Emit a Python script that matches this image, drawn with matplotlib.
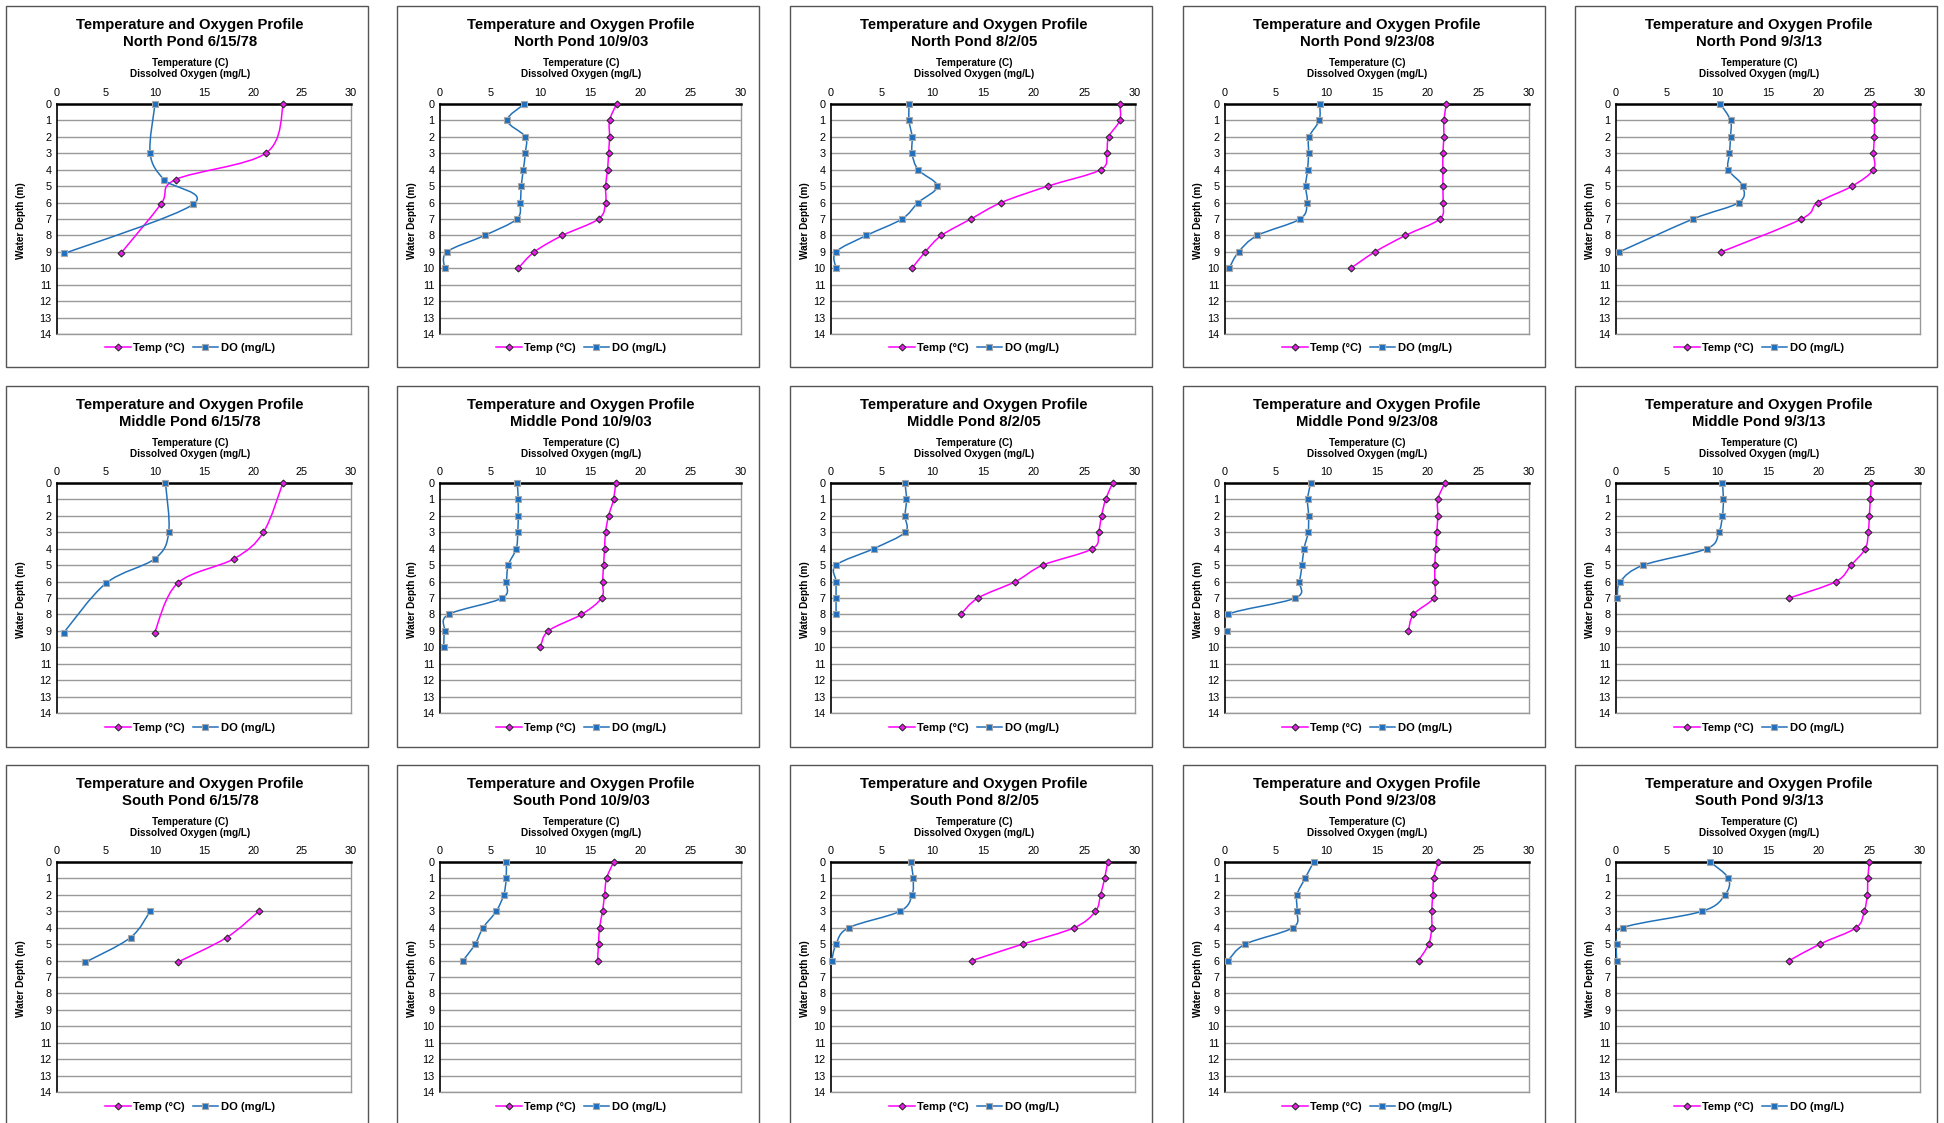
import numpy as np
import matplotlib
matplotlib.use('Agg')
import matplotlib.pyplot as plt
from matplotlib.path import Path
from matplotlib.patches import PathPatch, Rectangle
from matplotlib.lines import Line2D

plt.rcParams['font.family'] = ['Liberation Sans', 'DejaVu Sans']

# ---------------- data ----------------
ponds = ['North', 'Middle', 'South']
dates = ['6/15/78', '10/9/03', '8/2/05', '9/23/08', '9/3/13']
x_ticks = [0, 5, 10, 15, 20, 25, 30]
y_ticks = list(range(0, 15))

# North Pond
n78_depth = [0, 3, 4.6, 6.1, 9.1]
n78_temp = [23.1, 21.3, 12.1, 10.6, 6.5]
n78_do = [10.0, 9.5, 10.9, 13.9, 0.75]

n03_depth = [0, 1, 2, 3, 4, 5, 6, 7, 8, 9, 10]
n03_temp = [17.6, 16.9, 16.9, 16.8, 16.7, 16.5, 16.5, 15.8, 12.2, 9.4, 7.8]
n03_do = [8.4, 6.7, 8.5, 8.5, 8.3, 8.1, 8.0, 7.65, 4.45, 0.7, 0.46]

n05_depth = [0, 1, 2, 3, 4, 5, 6, 7, 8, 9, 10]
n05_temp = [28.5, 28.5, 27.4, 27.2, 26.6, 21.4, 16.8, 13.8, 10.9, 9.3, 8.0]
n05_do = [7.7, 7.7, 8.0, 8.0, 8.6, 10.5, 8.6, 7.0, 3.5, 0.5, 0.5]

n08_depth = [0, 1, 2, 3, 4, 5, 6, 7, 8, 9, 10]
n08_temp = [21.85, 21.6, 21.6, 21.5, 21.5, 21.5, 21.5, 21.2, 17.8, 14.8, 12.4]
n08_do = [9.35, 9.3, 8.3, 8.25, 8.15, 7.95, 8.1, 7.4, 3.2, 1.35, 0.4]

n13_depth = [0, 1, 2, 3, 4, 5, 6, 7, 9]
n13_temp = [25.5, 25.5, 25.5, 25.4, 25.4, 23.3, 19.9, 18.3, 10.4]
n13_do = [10.3, 11.3, 11.3, 11.2, 11.1, 12.5, 12.1, 7.6, 0.33]

# Middle Pond
m78_depth = [0, 3, 4.6, 6.1, 9.1]
m78_temp = [23.05, 21.06, 18.1, 12.3, 9.96]
m78_do = [11.07, 11.4, 10.0, 5.0, 0.7]

m03_depth = [0, 1, 2, 3, 4, 5, 6, 7, 8, 9, 10]
m03_temp = [17.5, 17.3, 16.8, 16.5, 16.4, 16.3, 16.2, 16.1, 14.1, 10.8, 10.0]
m03_do = [7.7, 7.8, 7.8, 7.75, 7.6, 6.8, 6.6, 6.2, 0.85, 0.45, 0.37]

m05_depth = [0, 1, 2, 3, 4, 5, 6, 7, 8]
m05_temp = [27.8, 27.1, 26.7, 26.4, 25.8, 20.9, 18.2, 14.5, 12.8]
m05_do = [7.3, 7.45, 7.3, 7.3, 4.2, 0.5, 0.5, 0.5, 0.5]

m08_depth = [0, 1, 2, 3, 4, 5, 6, 7, 8, 9]
m08_temp = [21.7, 21.0, 21.0, 20.9, 20.8, 20.7, 20.7, 20.6, 18.6, 18.1]
m08_do = [8.45, 8.15, 8.25, 8.2, 7.8, 7.6, 7.35, 6.95, 0.26, 0.16]

m13_depth = [0, 1, 2, 3, 4, 5, 6, 7]
m13_temp = [25.2, 25.1, 25.0, 24.9, 24.6, 23.2, 21.7, 17.1]
m13_do = [10.5, 10.6, 10.5, 10.15, 8.95, 2.7, 0.43, 0.13]

# South Pond
s78_depth = [3, 4.6, 6.1]
s78_temp = [20.6, 17.3, 12.3]
s78_do = [9.5, 7.5, 2.9]

s03_depth = [0, 1, 2, 3, 4, 5, 6]
s03_temp = [17.3, 16.6, 16.4, 16.2, 15.9, 15.8, 15.7]
s03_do = [6.6, 6.6, 6.35, 5.6, 4.3, 3.5, 2.3]

s05_depth = [0, 1, 2, 3, 4, 5, 6]
s05_temp = [27.3, 27.0, 26.6, 26.1, 24.0, 18.9, 13.9]
s05_do = [7.9, 8.1, 8.0, 6.8, 1.75, 0.5, 0.07]

s08_depth = [0, 1, 2, 3, 4, 5, 6]
s08_temp = [21.05, 20.6, 20.5, 20.4, 20.4, 20.1, 19.1]
s08_do = [8.75, 7.9, 7.1, 7.1, 6.7, 2.0, 0.3]

s13_depth = [0, 1, 2, 3, 4, 5, 6]
s13_temp = [25.0, 24.85, 24.8, 24.5, 23.7, 20.1, 17.1]
s13_do = [9.3, 11.1, 10.75, 8.5, 0.65, 0.07, 0.07]

series = [
    [(n78_depth, n78_temp, n78_do), (n03_depth, n03_temp, n03_do), (n05_depth, n05_temp, n05_do),
     (n08_depth, n08_temp, n08_do), (n13_depth, n13_temp, n13_do)],
    [(m78_depth, m78_temp, m78_do), (m03_depth, m03_temp, m03_do), (m05_depth, m05_temp, m05_do),
     (m08_depth, m08_temp, m08_do), (m13_depth, m13_temp, m13_do)],
    [(s78_depth, s78_temp, s78_do), (s03_depth, s03_temp, s03_do), (s05_depth, s05_temp, s05_do),
     (s08_depth, s08_temp, s08_do), (s13_depth, s13_temp, s13_do)],
]

# ---------------- layout / style ----------------
W, H = 1944, 1123
fig = plt.figure(figsize=(W / 100, H / 100), dpi=100)
fig.patch.set_facecolor('white')


def fx(px):
    return px / W


def fy(py):
    return 1 - py / H


panel_lefts = [6, 397, 790, 1183, 1575]
panel_tops = [6, 386, 765]
PW, PH = 362, 361
plot_lefts = [57, 440, 831, 1225, 1616]
plot_rights = [351, 741, 1135, 1529, 1920]
plot_tops = [104, 483, 862]
PLOT_H = 230

TEMP_C = '#ff00ff'
DO_C = '#2372b9'
GRID_C = '#999999'


def smooth_path(xs, ys):
    P = np.column_stack([xs, ys]).astype(float)
    n = len(P)
    verts = [P[0]]
    codes = [Path.MOVETO]
    for i in range(n - 1):
        p0 = P[i - 1] if i > 0 else P[i]
        p1 = P[i]
        p2 = P[i + 1]
        p3 = P[i + 2] if i + 2 < n else P[i + 1]
        c1 = p1 + (p2 - p0) / 6.0
        c2 = p2 - (p3 - p1) / 6.0
        verts += [c1, c2, p2]
        codes += [Path.CURVE4] * 3
    return Path(verts, codes)


temp_style = dict(marker='D', ms=3.5, mfc='#e81ee8', mec='#2a2a2a', mew=0.8)
do_style = dict(marker='s', ms=4.2, mfc='#1f6fbf', mec='#a8a8a8', mew=0.8)

for r, pond in enumerate(ponds):
    for c, date in enumerate(dates):
        pl, pt = panel_lefts[c], panel_tops[r]
        fig.patches.append(Rectangle((fx(pl), fy(pt + PH)), PW / W, PH / H,
                                     transform=fig.transFigure, fill=False,
                                     edgecolor='#555555', lw=1.0))
        cx = fx(pl + PW / 2 + 3)
        fig.text(cx, fy(pt + 19), 'Temperature and Oxygen Profile', ha='center', va='center',
                 fontsize=10.7, weight='bold')
        fig.text(cx, fy(pt + 36), f'{pond} Pond {date}', ha='center', va='center',
                 fontsize=10.7, weight='bold')
        fig.text(cx, fy(pt + 57), 'Temperature (C)', ha='center', va='center',
                 fontsize=7.2, weight='bold')
        fig.text(cx, fy(pt + 68), 'Dissolved Oxygen (mg/L)', ha='center', va='center',
                 fontsize=7.2, weight='bold')

        x0, x1 = plot_lefts[c], plot_rights[c]
        y0 = plot_tops[r]
        ax = fig.add_axes([fx(x0), fy(y0 + PLOT_H), (x1 - x0) / W, PLOT_H / H])
        ax.set_xlim(0, 30)
        ax.set_ylim(14, 0)
        ax.xaxis.tick_top()
        ax.set_xticks(x_ticks)
        ax.set_yticks(y_ticks)
        ax.tick_params(length=0, labelsize=7.8, pad=4)
        ax.grid(axis='y', color=GRID_C, lw=1.0)
        ax.set_axisbelow(True)
        ax.spines['top'].set_color('black')
        ax.spines['top'].set_linewidth(1.8)
        ax.spines['left'].set_color('black')
        ax.spines['left'].set_linewidth(1.2)
        for s in ('right', 'bottom'):
            ax.spines[s].set_color(GRID_C)
            ax.spines[s].set_linewidth(1.0)

        fig.text(fx(pl + 15), fy(y0 + PLOT_H / 2 + 2), 'Water Depth (m)', rotation=90,
                 ha='center', va='center', fontsize=7.2, weight='bold')

        depth, temp, do = series[r][c]
        ax.add_patch(PathPatch(smooth_path(temp, depth), fill=False, edgecolor=TEMP_C,
                               lw=1.1, zorder=3))
        ax.plot(temp, depth, linestyle='none', zorder=4, clip_on=False, **temp_style)
        ax.add_patch(PathPatch(smooth_path(do, depth), fill=False, edgecolor=DO_C,
                               lw=1.1, zorder=5))
        ax.plot(do, depth, linestyle='none', zorder=6, clip_on=False, **do_style)

        handles = [Line2D([], [], color=TEMP_C, lw=1.1, **temp_style),
                   Line2D([], [], color=DO_C, lw=1.1, **do_style)]
        ax.legend(handles, ['Temp (°C)', 'DO (mg/L)'], loc='center',
                  bbox_to_anchor=(cx, fy(pt + 342)), bbox_transform=fig.transFigure,
                  ncol=2, frameon=False, prop={'weight': 'bold', 'size': 8},
                  handlelength=2.3, handletextpad=0.25, columnspacing=0.7,
                  borderpad=0, borderaxespad=0)

fig.savefig('out.png', dpi=100, facecolor='white')
